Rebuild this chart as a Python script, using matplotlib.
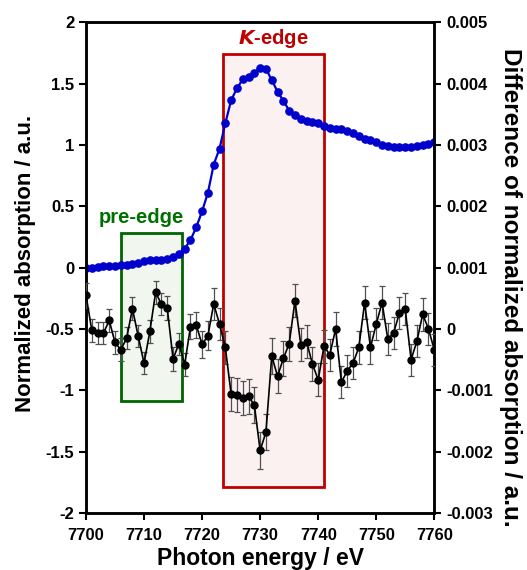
import matplotlib
matplotlib.use("Agg")
import matplotlib.pyplot as plt
from matplotlib.patches import Rectangle

plt.rcParams["font.family"] = ["Liberation Sans", "DejaVu Sans"]
plt.rcParams["font.weight"] = "bold"

# photon energy grid (eV), 1 eV step
energy = list(range(7700, 7761))

# normalized absorption (left axis)
absorption = [
    -0.005, 0.0, 0.005, 0.01, 0.01, 0.015, 0.02, 0.025, 0.03, 0.04,
    0.055, 0.06, 0.06, 0.065, 0.07, 0.085, 0.11, 0.155, 0.225, 0.33,
    0.46, 0.61, 0.84, 0.97, 1.177, 1.364, 1.462, 1.535, 1.552, 1.589,
    1.63, 1.62, 1.53, 1.434, 1.361, 1.28, 1.245, 1.212, 1.198, 1.19,
    1.177, 1.157, 1.141, 1.128, 1.128, 1.114, 1.095, 1.073, 1.051, 1.04,
    1.022, 1.0, 0.992, 0.986, 0.986, 0.981, 0.986, 0.989, 0.997, 1.005,
    1.027,
]

# difference of normalized absorption (right axis)
difference = [
    0.00055, -0.00002, -0.00006, -0.00007, 0.00014, -0.00022, -0.00034, -0.00015, 0.00033, -0.00012,
    -0.00056, -0.00004, 0.00060, 0.00040, 0.00034, -0.00049, -0.00024, -0.00058, 0.00004, 0.00006,
    -0.00025, -0.00011, 0.00041, 0.00008, -0.00030, -0.00106, -0.00108, -0.00112, -0.00110, -0.00124,
    -0.00198, -0.00168, -0.00044, -0.00077, -0.00048, -0.00024, 0.00046, -0.00026, -0.00021, -0.00057,
    -0.00083, -0.00028, -0.00042, 0.00000, -0.00087, -0.00068, -0.00056, -0.00030, 0.00043, -0.00030,
    0.00008, 0.00043, -0.00017, -0.00006, 0.00026, 0.00032, -0.00050, -0.00020, 0.00024, 0.00000,
    -0.00034,
]
diff_err = [
    0.00020, 0.00019, 0.00018, 0.00018, 0.00019, 0.00018, 0.00019, 0.00018, 0.00019, 0.00018,
    0.00018, 0.00019, 0.00019, 0.00018, 0.00019, 0.00019, 0.00018, 0.00019, 0.00020, 0.00021,
    0.00022, 0.00024, 0.00026, 0.00026, 0.00027, 0.00028, 0.00028, 0.00028, 0.00028, 0.00029,
    0.00030, 0.00030, 0.00029, 0.00028, 0.00028, 0.00028, 0.00027, 0.00027, 0.00027, 0.00027,
    0.00027, 0.00027, 0.00026, 0.00027, 0.00026, 0.00026, 0.00026, 0.00027, 0.00027, 0.00027,
    0.00026, 0.00027, 0.00026, 0.00026, 0.00026, 0.00026, 0.00026, 0.00026, 0.00027, 0.00026,
    0.00026,
]

# highlighted regions: (x0, x1, y0, y1) in left-axis units
pre_edge = (7706.0, 7716.5, -1.085, 0.28)
k_edge = (7723.6, 7741.0, -1.79, 1.74)

fig = plt.figure(figsize=(5.27, 5.70), dpi=100)
ax = fig.add_axes([86 / 527, 1 - 513 / 570, 348.3 / 527, 490.7 / 570])
ax2 = ax.twinx()

# boxes
x0, x1, y0, y1 = pre_edge
ax.add_patch(Rectangle((x0, y0), x1 - x0, y1 - y0, facecolor="#f1f6ef",
                       edgecolor="#006400", linewidth=2, zorder=1))
x0, x1, y0, y1 = k_edge
ax.add_patch(Rectangle((x0, y0), x1 - x0, y1 - y0, facecolor="#fcf1f1",
                       edgecolor="#c00000", linewidth=2, zorder=1))
ax.text(7709.6, 0.41, "pre-edge", color="#007000", fontsize=14.5,
        fontweight="bold", ha="center", va="center")
ax.text(7732.3, 1.87, "$\\mathbfit{K}$-edge", color="#c00000", fontsize=14.5,
        fontweight="bold", ha="center", va="center")

ax.plot(energy, absorption, "-o", color="#0000cc", markersize=5.2,
        linewidth=1.6, zorder=3)

ax2.errorbar(energy, difference, yerr=diff_err, fmt="-o", color="black",
             markersize=5, linewidth=1.2, ecolor="#505050", elinewidth=0.9,
             capsize=2.5, capthick=0.9, zorder=3)

ax.set_xlim(7700, 7760)
ax.set_ylim(-2, 2)
ax2.set_ylim(-0.003, 0.005)
ax.set_xticks(range(7700, 7761, 10))
ax.set_yticks([-2, -1.5, -1, -0.5, 0, 0.5, 1, 1.5, 2])
ax.set_yticklabels(["-2", "-1.5", "-1", "-0.5", "0", "0.5", "1", "1.5", "2"])
ax2.set_yticks([-0.003, -0.002, -0.001, 0, 0.001, 0.002, 0.003, 0.004, 0.005])
ax2.set_yticklabels(["-0.003", "-0.002", "-0.001", "0", "0.001", "0.002",
                     "0.003", "0.004", "0.005"])

for a in (ax, ax2):
    for s in a.spines.values():
        s.set_linewidth(1.8)
    a.tick_params(direction="out", length=5, width=1.5, labelsize=12)
ax.tick_params(axis="x", pad=6)

ax.set_xlabel("Photon energy / eV", fontsize=16.5, fontweight="bold", labelpad=3)
ax.set_ylabel("Normalized absorption / a.u.", fontsize=16, fontweight="bold",
              va="center")
ax.yaxis.set_label_coords(-0.175, 0.509)
ax2.set_ylabel("Difference of normalized absorption / a.u.", fontsize=17.5,
               fontweight="bold", rotation=-90, va="center")
ax2.yaxis.set_label_coords(1.22, 0.46)

fig.savefig("out.png", dpi=100)
